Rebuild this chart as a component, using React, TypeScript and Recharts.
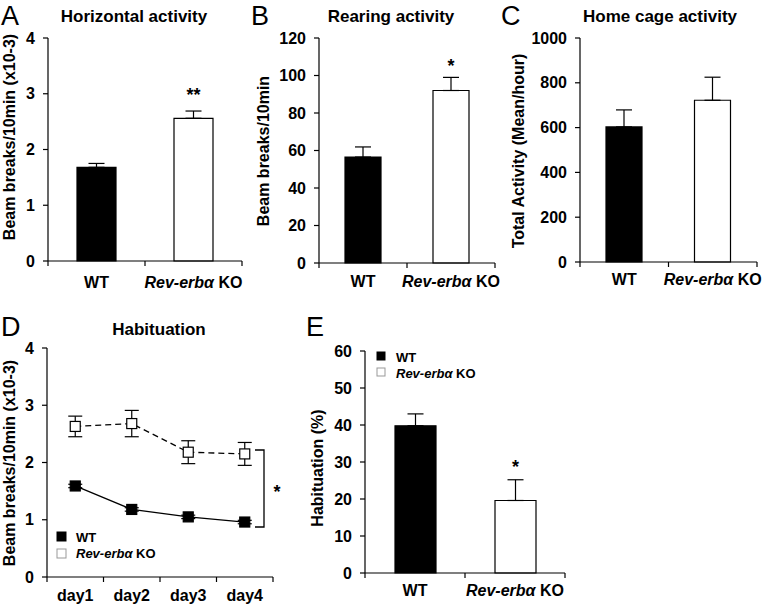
import React from "react";
import {
  Bar,
  BarChart,
  Cell,
  ErrorBar,
  LabelList,
  Line,
  LineChart,
  XAxis,
  YAxis,
} from "recharts";

// groups used in the bar panels
const groups = ["WT", "Rev-erbα KO"];
const barFills = ["#000000", "#ffffff"];

// A: horizontal activity (x10-3)
const horizontalMean = [1.68, 2.56];
const horizontalSem = [0.07, 0.13];
const horizontalSig = ["", "**"];

// B: rearing activity
const rearingMean = [56.5, 92];
const rearingSem = [5.4, 7];
const rearingSig = ["", "*"];

// C: home cage activity
const homeCageMean = [603, 722];
const homeCageSem = [76, 103];

// D: habituation over days (x10-3)
const days = ["day1", "day2", "day3", "day4"];
const wtDaily = [1.59, 1.18, 1.05, 0.96];
const wtDailySem = [0.03, 0.03, 0.03, 0.03];
const koDaily = [2.63, 2.68, 2.18, 2.15];
const koDailySem = [0.18, 0.23, 0.2, 0.2];

// E: habituation (%)
const habituationMean = [39.8, 19.6];
const habituationSem = [3.2, 5.6];
const habituationSig = ["", "*"];

const FONT = '"Liberation Sans", Arial, sans-serif';
const KO = "Rev-erbα KO";
const AXIS = { stroke: "#000", strokeWidth: 1.2 };
const yTick = { fill: "#000", fontSize: 16, fontWeight: "bold", fontFamily: FONT };

type TickProps = {
  x?: number;
  y?: number;
  payload?: { value: string };
  index?: number;
  visibleTicksCount?: number;
  band: number;
  labelDy: number;
};

// Excel style: tick marks sit between categories, labels at the centre
function CategoryTick({ x = 0, y = 0, payload, index = 0, visibleTicksCount = 0, band, labelDy }: TickProps) {
  const label = String(payload?.value ?? "");
  return (
    <g>
      <line x1={x - band / 2} x2={x - band / 2} y1={y} y2={y + 5} stroke="#000" strokeWidth={1.2} />
      {index === visibleTicksCount - 1 && (
        <line x1={x + band / 2} x2={x + band / 2} y1={y} y2={y + 5} stroke="#000" strokeWidth={1.2} />
      )}
      <text x={x} y={y + labelDy} textAnchor="middle" fontFamily={FONT} fontWeight="bold" fontSize={16} fill="#000">
        {label === KO ? (
          <>
            <tspan fontStyle="italic">Rev-erbα</tspan>
            <tspan> KO</tspan>
          </>
        ) : (
          label
        )}
      </text>
    </g>
  );
}

type Margin = { top: number; right: number; bottom: number; left: number };

type BarPanelProps = {
  left: number;
  top: number;
  width: number;
  height: number;
  margin: Margin;
  yWidth: number;
  domain: [number, number];
  ticks: number[];
  means: number[];
  sems: number[];
  sig?: string[];
  barSize: number;
  starOffset?: number;
  labelDy: number;
};

function BarPanel(p: BarPanelProps) {
  const data = groups.map((g, i) => ({
    group: g,
    mean: p.means[i],
    err: [0, p.sems[i]],
    sig: p.sig ? p.sig[i] : "",
  }));
  const band = (p.width - p.margin.left - p.margin.right - p.yWidth) / groups.length;
  return (
    <div style={{ position: "absolute", left: p.left, top: p.top }}>
      <BarChart width={p.width} height={p.height} data={data} margin={p.margin}>
        <XAxis
          dataKey="group"
          height={35}
          axisLine={AXIS}
          tickLine={false}
          tickSize={0}
          tickMargin={0}
          interval={0}
          tick={<CategoryTick band={band} labelDy={p.labelDy} />}
        />
        <YAxis
          type="number"
          width={p.yWidth}
          domain={p.domain}
          ticks={p.ticks}
          interval={0}
          axisLine={AXIS}
          tickLine={AXIS}
          tickSize={5}
          tickMargin={8}
          tick={yTick}
        />
        <Bar dataKey="mean" barSize={p.barSize} stroke="#000" strokeWidth={1.2} isAnimationActive={false}>
          {data.map((d, i) => (
            <Cell key={d.group} fill={barFills[i]} />
          ))}
          <ErrorBar dataKey="err" width={8} stroke="#000" strokeWidth={1.2} direction="y" />
          {p.sig && (
            <LabelList
              dataKey="sig"
              position="top"
              offset={p.starOffset}
              fill="#000"
              fontSize={18}
              fontWeight="bold"
              fontFamily={FONT}
            />
          )}
        </Bar>
      </BarChart>
    </div>
  );
}

function Square(props: { cx?: number; cy?: number; fill: string }) {
  const { cx = 0, cy = 0, fill } = props;
  return <rect x={cx - 5} y={cy - 5} width={10} height={10} fill={fill} stroke="#000" strokeWidth={1.2} />;
}

function HabituationLines() {
  const data = days.map((d, i) => ({
    day: d,
    wt: wtDaily[i],
    wtErr: wtDailySem[i],
    ko: koDaily[i],
    koErr: koDailySem[i],
  }));
  const margin = { top: 48, right: 37, bottom: 1, left: 0 };
  const band = (310 - margin.right - 47) / days.length;
  return (
    <div style={{ position: "absolute", left: 0, top: 300 }}>
      <LineChart width={310} height={308} data={data} margin={margin}>
        <XAxis
          dataKey="day"
          scale="band"
          height={30}
          axisLine={AXIS}
          tickLine={false}
          tickSize={0}
          tickMargin={0}
          interval={0}
          tick={<CategoryTick band={band} labelDy={24} />}
        />
        <YAxis
          type="number"
          width={47}
          domain={[0, 4]}
          ticks={[0, 1, 2, 3, 4]}
          interval={0}
          axisLine={AXIS}
          tickLine={AXIS}
          tickSize={5}
          tickMargin={8}
          tick={yTick}
        />
        <Line
          dataKey="ko"
          stroke="#000"
          strokeWidth={1.3}
          strokeDasharray="6 4"
          dot={<Square fill="#fff" />}
          activeDot={false}
          isAnimationActive={false}
        >
          <ErrorBar dataKey="koErr" width={7} stroke="#000" strokeWidth={1.2} direction="y" />
        </Line>
        <Line
          dataKey="wt"
          stroke="#000"
          strokeWidth={1.3}
          dot={<Square fill="#000" />}
          activeDot={false}
          isAnimationActive={false}
        >
          <ErrorBar dataKey="wtErr" width={7} stroke="#000" strokeWidth={1.2} direction="y" />
        </Line>
      </LineChart>
    </div>
  );
}

function VLabel({ x, y, text }: { x: number; y: number; text: string }) {
  return (
    <text transform={`translate(${x},${y}) rotate(-90)`} textAnchor="middle" fontSize={16} fontWeight="bold">
      {text}
    </text>
  );
}

function LegendRow({ x, y, textX, size, filled, baseline }: { x: number; y: number; textX: number; size: number; filled: boolean; baseline: number }) {
  return (
    <g>
      <rect
        x={x}
        y={y}
        width={size}
        height={size}
        fill={filled ? "#000" : "#fff"}
        stroke={filled ? "#000" : "#999"}
        strokeWidth={1}
      />
      <text x={textX} y={baseline} fontSize={13} fontWeight="bold">
        {filled ? (
          "WT"
        ) : (
          <>
            <tspan fontStyle="italic">Rev-erbα</tspan>
            <tspan> KO</tspan>
          </>
        )}
      </text>
    </g>
  );
}

function Annotations() {
  const letter = { fontSize: 27, fontWeight: "normal" as const };
  return (
    <svg
      width={762}
      height={608}
      style={{ position: "absolute", left: 0, top: 0, pointerEvents: "none" }}
      fontFamily={FONT}
      fill="#000"
    >
      <text x={1} y={25} {...letter}>A</text>
      <text x={251} y={25} {...letter}>B</text>
      <text x={501} y={25} {...letter}>C</text>
      <text x={1} y={336} {...letter}>D</text>
      <text x={306} y={336} {...letter}>E</text>

      <g fontSize={17} fontWeight="bold" textAnchor="middle">
        <text x={134} y={22}>Horizontal activity</text>
        <text x={391} y={22}>Rearing activity</text>
        <text x={660} y={22}>Home cage activity</text>
        <text x={159} y={335}>Habituation</text>
      </g>

      <VLabel x={15} y={137} text="Beam breaks/10min (x10-3)" />
      <VLabel x={269} y={151} text="Beam breaks/10min" />
      <VLabel x={524} y={151} text="Total Activity (Mean/hour)" />
      <VLabel x={15} y={463} text="Beam breaks/10min (x10-3)" />
      <VLabel x={323} y={468} text="Habituation (%)" />

      {/* significance bracket between the two day curves */}
      <path d="M255 450 H264 V527 H255" fill="none" stroke="#000" strokeWidth={1.3} />
      <text x={277} y={498} fontSize={18} fontWeight="bold" textAnchor="middle">*</text>

      <LegendRow x={57} y={532} size={9} textX={76} baseline={542} filled />
      <LegendRow x={57} y={549} size={9} textX={76} baseline={558} filled={false} />
      <LegendRow x={377} y={352} size={8} textX={396} baseline={362} filled />
      <LegendRow x={377} y={368} size={8} textX={396} baseline={378} filled={false} />
    </svg>
  );
}

export default function App() {
  return (
    <div
      style={{
        position: "absolute",
        left: 0,
        top: 0,
        width: 762,
        height: 608,
        background: "#fff",
        fontFamily: FONT,
      }}
    >
      <BarPanel
        left={0}
        top={0}
        width={250}
        height={300}
        margin={{ top: 38, right: 8, bottom: 4, left: 0 }}
        yWidth={48}
        domain={[0, 4]}
        ticks={[0, 1, 2, 3, 4]}
        means={horizontalMean}
        sems={horizontalSem}
        sig={horizontalSig}
        barSize={39}
        starOffset={17}
        labelDy={27}
      />
      <BarPanel
        left={250}
        top={0}
        width={250}
        height={300}
        margin={{ top: 38, right: 5, bottom: 2, left: 0 }}
        yWidth={69}
        domain={[0, 120]}
        ticks={[0, 20, 40, 60, 80, 100, 120]}
        means={rearingMean}
        sems={rearingSem}
        sig={rearingSig}
        barSize={36}
        starOffset={19}
        labelDy={24}
      />
      <BarPanel
        left={500}
        top={0}
        width={262}
        height={300}
        margin={{ top: 38, right: 5, bottom: 3, left: 0 }}
        yWidth={80}
        domain={[0, 1000]}
        ticks={[0, 200, 400, 600, 800, 1000]}
        means={homeCageMean}
        sems={homeCageSem}
        barSize={36}
        labelDy={23}
      />
      <HabituationLines />
      <BarPanel
        left={310}
        top={300}
        width={300}
        height={308}
        margin={{ top: 51, right: 45, bottom: 0, left: 0 }}
        yWidth={55}
        domain={[0, 60]}
        ticks={[0, 10, 20, 30, 40, 50, 60]}
        means={habituationMean}
        sems={habituationSem}
        sig={habituationSig}
        barSize={41}
        starOffset={27}
        labelDy={23}
      />
      <Annotations />
    </div>
  );
}
